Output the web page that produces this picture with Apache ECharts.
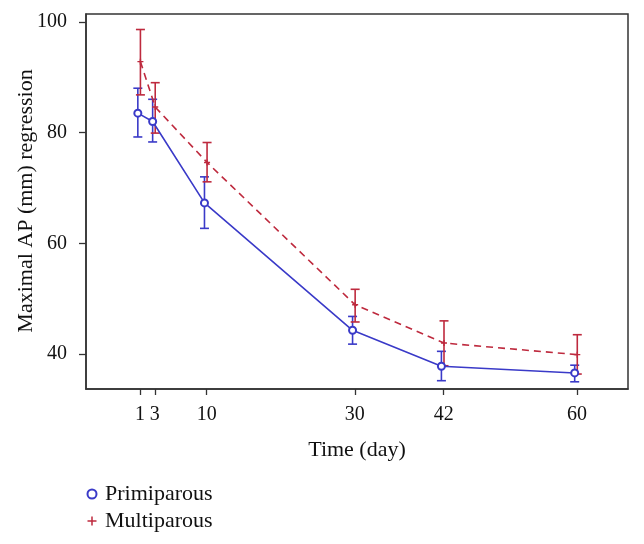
<!DOCTYPE html>
<html>
<head>
<meta charset="utf-8">
<script src="https://cdn.jsdelivr.net/npm/echarts@6/dist/echarts.min.js"></script>
<style>
  html, body { margin: 0; padding: 0; background: #fff; }
  #chart { width: 644px; height: 544px; }
</style>
</head>
<body>
<div id="chart"></div>
<script>
// days of measurement
const days = [1, 3, 10, 30, 42, 60]
const xTicks = [1, 3, 10, 30, 42, 60]
const yTicks = [40, 60, 80, 100]

// Primiparous: mean, lower, upper
const primMean = [83.5, 82.0, 67.3, 44.3, 37.8, 36.6]
const primLow = [79.2, 78.3, 62.7, 41.8, 35.2, 35.0]
const primHigh = [88.0, 86.0, 72.0, 46.8, 40.5, 38.0]

// Multiparous: mean, lower, upper
const multMean = [92.8, 84.6, 74.6, 48.9, 42.0, 39.9]
const multLow = [86.8, 79.9, 71.1, 45.8, 37.9, 36.4]
const multHigh = [98.6, 89.0, 78.2, 51.7, 46.0, 43.5]

// small horizontal dodge so the bars don't overlap
const primShift = -0.3
const multShift = 0.05

const blue = '#3a3ac8'
const red = '#be2a3e'
const font = 'Liberation Serif'
const plusPath = 'path://M0,5L10,5M5,0L5,10'

var myChart = echarts.init(document.getElementById('chart'))

function errBars(low, high, shift) {
	return days.map((d, i) => [d + shift, low[i], high[i]])
}

function renderErr(color) {
	return function (params, api) {
		var x = api.value(0)
		var top = api.coord([x, api.value(2)])
		var bot = api.coord([x, api.value(1)])
		var w = 4.5
		var style = { stroke: color, lineWidth: 1.6 }
		return {
			type: 'group',
			children: [
				{ type: 'line', shape: { x1: top[0], y1: top[1], x2: bot[0], y2: bot[1] }, style: style },
				{ type: 'line', shape: { x1: top[0] - w, y1: top[1], x2: top[0] + w, y2: top[1] }, style: style },
				{ type: 'line', shape: { x1: bot[0] - w, y1: bot[1], x2: bot[0] + w, y2: bot[1] }, style: style }
			]
		}
	}
}

var option = {
	animation: false,
	textStyle: { fontFamily: font },
	grid: {
		left: 86, right: 16, top: 14, bottom: 155,
		outerBoundsMode: 'none',
		show: true, borderColor: '#333', borderWidth: 1.5
	},
	// y-axis title placed by hand, the axis name kept sliding left
	graphic: [{
		type: 'text',
		x: 26,
		y: 201,
		rotation: Math.PI / 2,
		style: {
			text: 'Maximal AP (mm) regression',
			font: '22px "Liberation Serif"',
			fill: '#111',
			align: 'center',
			verticalAlign: 'middle'
		}
	}],
	legend: {
		orient: 'vertical',
		left: 80,
		top: 478,
		itemWidth: 16,
		itemHeight: 9,
		itemGap: 5,
		textStyle: { fontFamily: font, fontSize: 22, color: '#111', padding: [0, 0, 0, 0] },
		data: [
			{ name: 'Primiparous', icon: 'circle', itemStyle: { color: '#fff', borderColor: blue, borderWidth: 2 } },
			{ name: 'Multiparous', icon: plusPath, itemStyle: { color: 'none', borderColor: red, borderWidth: 1.5 } }
		]
	},
	xAxis: {
		type: 'value',
		min: -6.3,
		max: 66.9,
		name: 'Time (day)',
		nameLocation: 'middle',
		nameGap: 50,
		nameTextStyle: { fontFamily: font, fontSize: 22, color: '#111' },
		splitLine: { show: false },
		axisLine: { show: true, onZero: false, lineStyle: { color: '#333', width: 1.5 } },
		axisTick: { show: true, length: 6, customValues: xTicks, lineStyle: { color: '#333', width: 1.3 } },
		axisLabel: { customValues: xTicks, margin: 16, fontFamily: font, fontSize: 20, color: '#111' }
	},
	yAxis: {
		type: 'value',
		min: 33.7,
		max: 101.4,
		splitLine: { show: false },
		axisLine: { show: true, onZero: false, lineStyle: { color: '#333', width: 1.5 } },
		axisTick: { show: true, length: 7, customValues: yTicks, lineStyle: { color: '#333', width: 1.3 } },
		axisLabel: { customValues: yTicks, margin: 19, fontFamily: font, fontSize: 20, color: '#111' }
	},
	series: [
		{
			name: 'Primiparous',
			type: 'line',
			data: days.map((d, i) => [d + primShift, primMean[i]]),
			symbol: 'emptyCircle',
			symbolSize: 7,
			lineStyle: { color: blue, width: 1.6 },
			itemStyle: { color: blue, borderWidth: 1.6 },
			z: 3
		},
		{
			name: 'Multiparous',
			type: 'line',
			data: days.map((d, i) => [d + multShift, multMean[i]]),
			symbol: plusPath,
			symbolSize: 6,
			lineStyle: { color: red, width: 1.6, type: [7, 5] },
			itemStyle: { color: 'none', borderColor: red, borderWidth: 1.4 },
			z: 3
		},
		{
			name: 'Primiparous err',
			type: 'custom',
			renderItem: renderErr(blue),
			data: errBars(primLow, primHigh, primShift),
			z: 2
		},
		{
			name: 'Multiparous err',
			type: 'custom',
			renderItem: renderErr(red),
			data: errBars(multLow, multHigh, multShift),
			z: 2
		}
	]
}

myChart.setOption(option)
</script>
</body>
</html>
